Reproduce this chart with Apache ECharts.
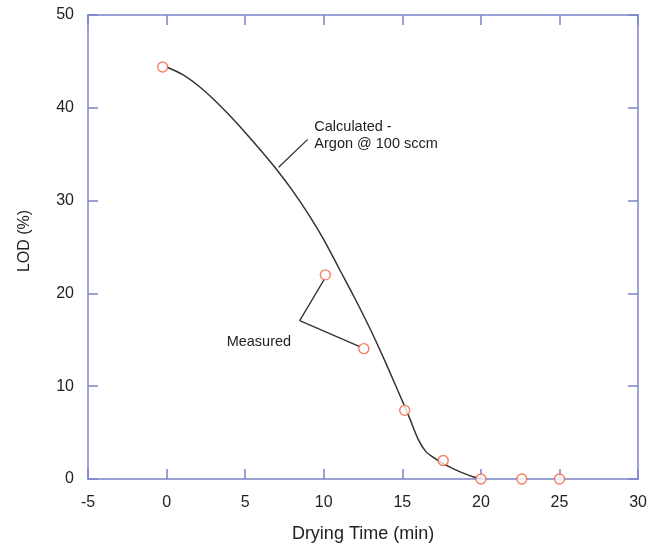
<!DOCTYPE html>
<html><head><meta charset="utf-8">
<script src="https://cdn.jsdelivr.net/npm/echarts@6/dist/echarts.min.js"></script>
<style>html,body{margin:0;padding:0;background:#fff}#c{width:650px;height:548px}</style>
</head><body><div id="c"></div>
<script>
// Data
const measuredX = [-0.25, 10.1, 12.55, 15.15, 17.6, 20.0, 22.6, 25.0];
const measuredY = [44.4, 22.0, 14.05, 7.4, 2.0, 0.0, 0.0, 0.0];
const calcX = [0, 1, 2, 3, 4, 5, 6, 7, 8, 9, 10, 11, 12, 13, 14, 15, 15.5, 16, 16.5, 17, 17.5, 18, 18.5, 19, 19.5, 20];
const calcY = [44.4, 43.6, 42.4, 40.9, 39.2, 37.35, 35.4, 33.35, 31.1, 28.6, 25.8, 22.6, 19.4, 16.0, 12.3, 8.4, 6.4, 4.3, 2.95, 2.3, 1.75, 1.3, 0.9, 0.55, 0.25, 0.0];
const calcLeaderX = [8.98, 7.13];
const calcLeaderY = [36.6, 33.6];
const measLeaderX = [10.06, 8.47, 12.29];
const measLeaderY = [21.6, 17.06, 14.27];
const calcLabel = ['Calculated -', 'Argon @ 100 sccm'];
const calcLabelPos = [9.4, 38.85];
const measLabel = 'Measured';
const measLabelPos = [3.82, 14.8];
const xTitle = 'Drying Time (min)';
const yTitle = 'LOD (%)';

const zip = (a, b) => a.map((v, i) => [v, b[i]]);
const axisColor = '#7c84cc';
const font = 'Liberation Sans, Arial, Helvetica, sans-serif';
const chart = echarts.init(document.getElementById('c'));
const baseAxis = {
  axisLine: {show: true, onZero: false, lineStyle: {color: axisColor, width: 1.5}},
  axisTick: {show: true, inside: true, length: 10, lineStyle: {color: axisColor, width: 1.5}},
  splitLine: {show: false}
};
chart.setOption({
  animation: false,
  grid: {left: 88, right: 11, top: 15, bottom: 67},
  xAxis: [
    Object.assign({type: 'value', min: -5, max: 30, interval: 5, position: 'bottom',
      name: xTitle, nameLocation: 'middle', nameGap: 46,
      nameTextStyle: {fontSize: 18, color: '#222', fontFamily: font},
      axisLabel: {fontSize: 16, color: '#222', fontFamily: font, margin: 16}}, baseAxis),
    Object.assign({type: 'value', min: -5, max: 30, interval: 5, position: 'top',
      axisLabel: {show: false}}, baseAxis)
  ],
  yAxis: [
    Object.assign({type: 'value', min: 0, max: 50, interval: 10, position: 'left',
      name: yTitle, nameLocation: 'middle', nameGap: 55, nameRotate: 90,
      nameTextStyle: {fontSize: 16, color: '#222', fontFamily: font, padding: [0, 0, 0, 12]},
      axisLabel: {fontSize: 16, color: '#222', fontFamily: font, margin: 14}}, baseAxis),
    Object.assign({type: 'value', min: 0, max: 50, interval: 10, position: 'right',
      axisLabel: {show: false}}, baseAxis)
  ],
  series: [
    {type: 'line', data: zip(calcX, calcY), smooth: 0.3, showSymbol: false, symbol: 'none',
      lineStyle: {color: '#333', width: 1.5}, z: 2},
    {type: 'line', data: zip(calcLeaderX, calcLeaderY), symbol: 'none',
      lineStyle: {color: '#333', width: 1.3}, z: 2},
    {type: 'line', data: zip(measLeaderX, measLeaderY), symbol: 'none',
      lineStyle: {color: '#333', width: 1.3}, z: 2},
    {type: 'scatter', data: zip(measuredX, measuredY), symbol: 'circle', symbolSize: 10,
      itemStyle: {color: '#fff', borderColor: '#f0603c', borderWidth: 1.4}, z: 5}
  ]
});
const p1 = chart.convertToPixel({xAxisIndex: 0, yAxisIndex: 0}, calcLabelPos);
const p2 = chart.convertToPixel({xAxisIndex: 0, yAxisIndex: 0}, measLabelPos);
chart.setOption({
  graphic: [
    {type: 'text', x: p1[0], y: p1[1], style: {text: calcLabel.join('\n'), fontSize: 14.5, lineHeight: 17,
      fill: '#222', fontFamily: font, textAlign: 'left', textVerticalAlign: 'top'}},
    {type: 'text', x: p2[0], y: p2[1], style: {text: measLabel, fontSize: 14.5,
      fill: '#222', fontFamily: font, textAlign: 'left', textVerticalAlign: 'middle'}}
  ]
});
</script></body></html>
